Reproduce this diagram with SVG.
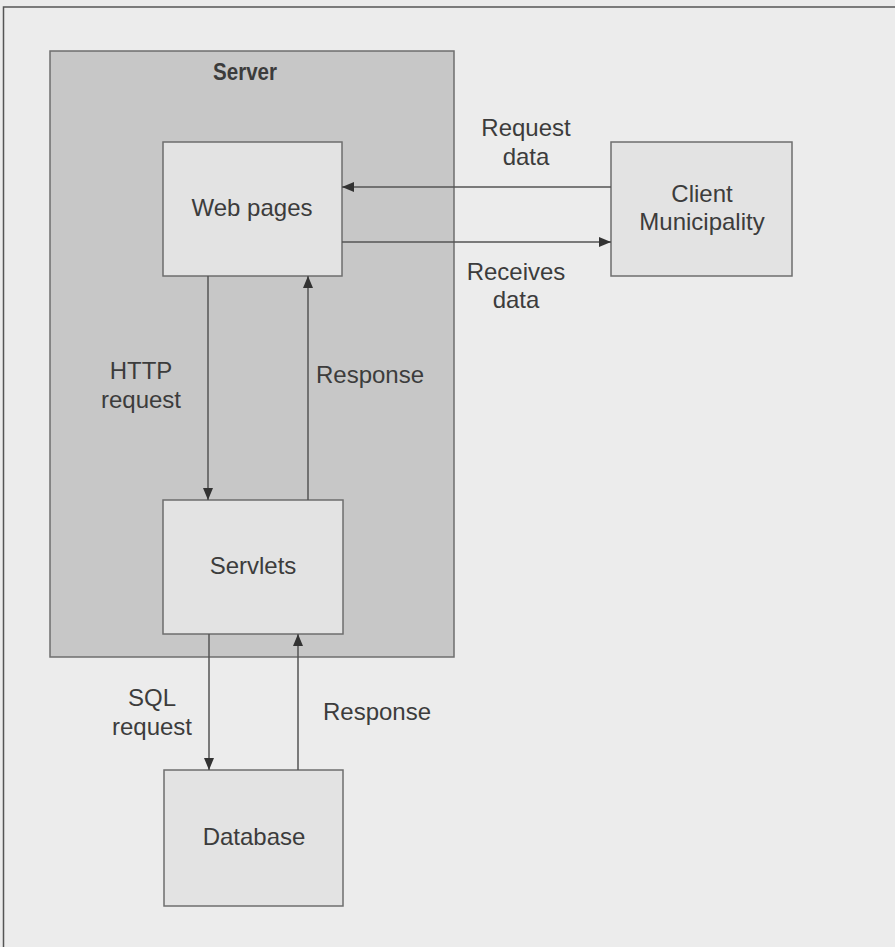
<svg xmlns="http://www.w3.org/2000/svg" width="895" height="947" viewBox="0 0 895 947">
<style>
.t{font-family:"Liberation Sans",Arial,sans-serif;font-size:24px;fill:#3c3c3c;text-anchor:middle}
.b{font-weight:bold}
.box{fill:#e3e3e3;stroke:#6e6e6e;stroke-width:1.5}
.ln{stroke:#555;stroke-width:1.5;fill:none}
</style>
<defs>
<marker id="ah" viewBox="0 0 12 10" refX="12" refY="5" markerWidth="12" markerHeight="10" markerUnits="userSpaceOnUse" orient="auto">
<path d="M0,0 L12,5 L0,10 z" fill="#333"/>
</marker>
</defs>
<rect x="0" y="0" width="895" height="947" fill="#ebebeb"/>
<rect x="3.5" y="7" width="900" height="950" fill="#ececec" stroke="#555" stroke-width="1.5"/>
<g id="server">
<rect x="50" y="51" width="404" height="606" fill="#c7c7c7" stroke="#6e6e6e" stroke-width="1.5"/>
<text class="t b" x="245" y="80" textLength="64" lengthAdjust="spacingAndGlyphs">Server</text>
</g>
<g id="webpages">
<rect class="box" x="163" y="142" width="179" height="134"/>
<text class="t" x="252" y="216">Web pages</text>
</g>
<g id="client">
<rect class="box" x="611" y="142" width="181" height="134"/>
<text class="t" x="702" y="202">Client</text>
<text class="t" x="702" y="230">Municipality</text>
</g>
<g id="servlets">
<rect class="box" x="163" y="500" width="180" height="134"/>
<text class="t" x="253" y="574">Servlets</text>
</g>
<g id="database">
<rect class="box" x="164" y="770" width="179" height="136"/>
<text class="t" x="254" y="845">Database</text>
</g>
<g id="connectors">
<line class="ln" x1="611" y1="187" x2="342" y2="187" marker-end="url(#ah)"/>
<line class="ln" x1="342" y1="242" x2="611" y2="242" marker-end="url(#ah)"/>
<line class="ln" x1="208" y1="276" x2="208" y2="500" marker-end="url(#ah)"/>
<line class="ln" x1="308" y1="500" x2="308" y2="276" marker-end="url(#ah)"/>
<line class="ln" x1="209" y1="634" x2="209" y2="770" marker-end="url(#ah)"/>
<line class="ln" x1="298" y1="770" x2="298" y2="634" marker-end="url(#ah)"/>
</g>
<g id="labels">
<text class="t" x="526" y="136">Request</text>
<text class="t" x="526" y="165">data</text>
<text class="t" x="516" y="280">Receives</text>
<text class="t" x="516" y="308">data</text>
<text class="t" x="141" y="379">HTTP</text>
<text class="t" x="141" y="408">request</text>
<text class="t" x="370" y="383">Response</text>
<text class="t" x="152" y="706">SQL</text>
<text class="t" x="152" y="735">request</text>
<text class="t" x="377" y="720">Response</text>
</g>
</svg>
